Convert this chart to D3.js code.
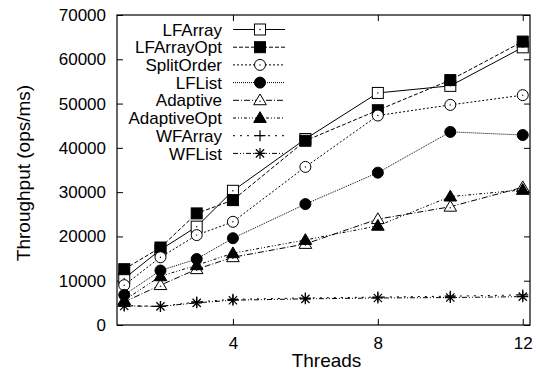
<!DOCTYPE html>
<html>
<head>
<meta charset="utf-8">
<script src="https://cdn.jsdelivr.net/npm/d3@7"></script>
<style>
  html, body { margin: 0; padding: 0; background: #fff; }
  svg text { font-family: "Liberation Sans", Arial, Helvetica, sans-serif; fill: #000; }
</style>
</head>
<body>
<svg id="chart" width="539" height="383"></svg>
<script>
// Thread counts measured
const threads = [1, 2, 3, 4, 6, 8, 10, 12];

// Throughput (ops/ms) per implementation
const lfArray     = [10500, 17000, 22200, 30300, 42000, 52400, 54000, 62700];
const lfArrayOpt  = [12600, 17500, 25200, 28200, 41600, 48500, 55300, 64000];
const splitOrder  = [9000, 15300, 20300, 23300, 35700, 47300, 49700, 51900];
const lfList      = [6800, 12300, 14900, 19600, 27300, 34400, 43600, 42900];
const adaptive    = [5200, 9000, 12600, 15300, 18300, 23900, 26700, 31100];
const adaptiveOpt = [5600, 11000, 13500, 16200, 19200, 22400, 29000, 30500];
const wfArray     = [4400, 4200, 5200, 5800, 6100, 6300, 6500, 6800];
const wfList      = [4300, 4200, 5000, 5600, 5900, 6100, 6200, 6400];

const seriesNames = ["LFArray", "LFArrayOpt", "SplitOrder", "LFList", "Adaptive", "AdaptiveOpt", "WFArray", "WFList"];
const seriesValues = [lfArray, lfArrayOpt, splitOrder, lfList, adaptive, adaptiveOpt, wfArray, wfList];

const xTicks = [4, 8, 12];
const yTicks = [0, 10000, 20000, 30000, 40000, 50000, 60000, 70000];

// Line dash patterns and point symbols, gnuplot-like
const styles = [
  { dash: null,            marker: "square",   fill: false },
  { dash: "4,2",           marker: "square",   fill: true  },
  { dash: "2,2",           marker: "circle",   fill: false },
  { dash: "1,1",           marker: "circle",   fill: true  },
  { dash: "6,2,1,2",       marker: "triangle", fill: false },
  { dash: "3,2,1,2,1,2",   marker: "triangle", fill: true  },
  { dash: "2,5",           marker: "plus",     fill: false },
  { dash: "5,2,1,2,1,2",   marker: "star",     fill: false }
];

const svg = d3.select("#chart");
const plotL = 117, plotR = 530, plotT = 15, plotB = 325;

const x = d3.scaleLinear().domain([0.8, 12.2]).range([plotL, plotR]);
const y = d3.scaleLinear().domain([0, 70000]).range([plotB, plotT]);

const tickLen = 6;

// Frame
svg.append("rect")
  .attr("x", plotL).attr("y", plotT)
  .attr("width", plotR - plotL).attr("height", plotB - plotT)
  .attr("fill", "none").attr("stroke", "#000").attr("stroke-width", 1.2);

// Axes with inward ticks, mirrored on the opposite sides
const fontTick = 17;
const axY = svg.append("g").attr("transform", `translate(${plotL},0)`)
  .call(d3.axisLeft(y).tickValues(yTicks).tickSizeInner(-tickLen).tickSizeOuter(0).tickPadding(11).tickFormat(d3.format("d")));
const axYr = svg.append("g").attr("transform", `translate(${plotR},0)`)
  .call(d3.axisRight(y).tickValues(yTicks).tickSizeInner(-tickLen).tickSizeOuter(0).tickFormat(""));
const axX = svg.append("g").attr("transform", `translate(0,${plotB})`)
  .call(d3.axisBottom(x).tickValues(xTicks).tickSizeInner(-tickLen).tickSizeOuter(0).tickPadding(12));
const axXt = svg.append("g").attr("transform", `translate(0,${plotT})`)
  .call(d3.axisTop(x).tickValues(xTicks).tickSizeInner(-tickLen).tickSizeOuter(0).tickFormat(""));

[axY, axYr, axX, axXt].forEach(g => {
  g.select(".domain").remove();
  g.selectAll("line").attr("stroke", "#000");
  g.selectAll("text").style("font-size", fontTick + "px")
    .style("font-family", '"Liberation Sans", Arial, sans-serif');
});

// Axis titles
svg.append("text")
  .attr("x", (plotL + plotR) / 2 + 3).attr("y", 367)
  .attr("text-anchor", "middle")
  .style("font-size", "19px")
  .text("Threads");
svg.append("text")
  .attr("transform", `translate(30,${(plotT + plotB) / 2 + 3}) rotate(-90)`)
  .attr("text-anchor", "middle")
  .style("font-size", "19px")
  .text("Throughput (ops/ms)");

// Marker drawing
function drawMarker(g, type, fill, cx, cy) {
  const s = 5.5;
  if (type === "square") {
    g.append("rect").attr("x", cx - s).attr("y", cy - s).attr("width", 2 * s).attr("height", 2 * s)
      .attr("fill", fill ? "#000" : "#fff").attr("stroke", "#000").attr("stroke-width", 1);
    if (!fill) g.append("circle").attr("cx", cx).attr("cy", cy).attr("r", 0.7).attr("fill", "#000");
  } else if (type === "circle") {
    g.append("circle").attr("cx", cx).attr("cy", cy).attr("r", s)
      .attr("fill", fill ? "#000" : "#fff").attr("stroke", "#000").attr("stroke-width", 1);
    if (!fill) g.append("circle").attr("cx", cx).attr("cy", cy).attr("r", 0.7).attr("fill", "#000");
  } else if (type === "triangle") {
    const h = s * 1.15;
    g.append("path")
      .attr("d", `M${cx},${cy - h}L${cx + h},${cy + h * 0.7}L${cx - h},${cy + h * 0.7}Z`)
      .attr("fill", fill ? "#000" : "#fff").attr("stroke", "#000").attr("stroke-width", 1);
    if (!fill) g.append("circle").attr("cx", cx).attr("cy", cy + 1).attr("r", 0.7).attr("fill", "#000");
  } else if (type === "plus") {
    g.append("path")
      .attr("d", `M${cx - s},${cy}H${cx + s}M${cx},${cy - s}V${cy + s}`)
      .attr("stroke", "#000").attr("stroke-width", 1.2).attr("fill", "none");
  } else if (type === "star") {
    const d = s * 0.75;
    g.append("path")
      .attr("d", `M${cx - s},${cy}H${cx + s}M${cx},${cy - s}V${cy + s}M${cx - d},${cy - d}L${cx + d},${cy + d}M${cx - d},${cy + d}L${cx + d},${cy - d}`)
      .attr("stroke", "#000").attr("stroke-width", 1.2).attr("fill", "none");
  }
}

const line = d3.line().x((d, i) => x(threads[i])).y(d => y(d));

// Series lines and points
const plot = svg.append("g");
seriesValues.forEach((vals, k) => {
  const st = styles[k];
  const g = plot.append("g");
  g.append("path").datum(vals)
    .attr("d", line)
    .attr("fill", "none").attr("stroke", "#000").attr("stroke-width", 1)
    .attr("stroke-dasharray", st.dash);
  vals.forEach((v, i) => drawMarker(g, st.marker, st.fill, x(threads[i]), y(v)));
});

// Legend
const legend = svg.append("g");
const legTextX = 222, legLineX0 = 233, legLineX1 = 285, legMarkX = 260;
seriesNames.forEach((name, k) => {
  const st = styles[k];
  const cy = 29.5 + k * 17.7;
  legend.append("text")
    .attr("x", legTextX).attr("y", cy).attr("dy", "0.36em")
    .attr("text-anchor", "end")
    .style("font-size", "17px")
    .text(name);
  legend.append("line")
    .attr("x1", legLineX0).attr("x2", legLineX1).attr("y1", cy).attr("y2", cy)
    .attr("stroke", "#000").attr("stroke-width", 1)
    .attr("stroke-dasharray", st.dash);
  drawMarker(legend, st.marker, st.fill, legMarkX, cy);
});
</script>
</body>
</html>
